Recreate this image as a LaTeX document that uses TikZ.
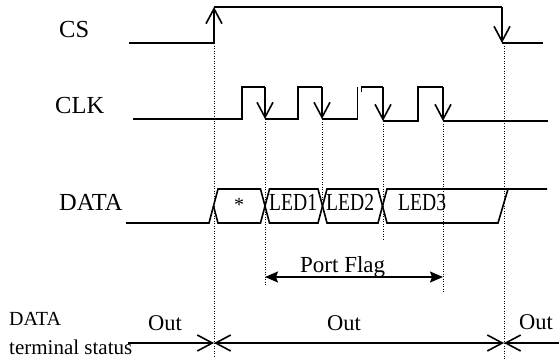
\documentclass[tikz,border=0pt]{standalone}
\usepackage{fontspec}
\setmainfont{Liberation Serif}
\usetikzlibrary{arrows.meta}
\begin{document}
\begin{tikzpicture}[x=1pt,y=-1pt,
  sig/.style={line width=1.6pt, line join=miter},
  barb/.style={-{Straight Barb[length=15pt,width=16pt]}},
  revbarb/.style={{Straight Barb[length=15pt,width=16pt]}-},
  bothbarb/.style={{Straight Barb[length=15pt,width=16pt]}-{Straight Barb[length=15pt,width=16pt]}},
  flag/.style={line width=1.6pt,{Stealth[length=13pt,width=11pt,inset=2pt]}-{Stealth[length=13pt,width=11pt,inset=2pt]}},
  dots/.style={line width=1pt, dash pattern=on 1pt off 1.5pt},
  lbl/.style={anchor=base west, inner sep=0pt},
  big/.style={font=\fontsize{24.5}{26}\selectfont},
  mid/.style={font=\fontsize{22.5}{24}\selectfont}
]
\useasboundingbox (0,0) rectangle (559,362);

% labels
\node[lbl,big] (lcs) at (59,37) {CS};
\node[lbl,big] (lclk) at (55,113) {CLK};
\node[lbl,big] (ldata) at (59,210) {DATA};
\node[lbl,font=\fontsize{20}{22}\selectfont] (ldt) at (9,325) {DATA};
\node[lbl,font=\fontsize{21}{22}\selectfont] (lts) at (9,354) {terminal status};

% ---- CS ----
\coordinate (cs0) at (129,43);
\coordinate (csr) at (214,43);
\coordinate (csrt) at (214,7);
\coordinate (csft) at (502,7);
\coordinate (csf) at (502,43);
\coordinate (cs1) at (543,43);
\draw[sig] (cs0) -- (csr);
\draw[sig,barb] (csr) -- (csrt);
\draw[sig] (csrt) -- (csft);
\draw[sig,barb] (csft) -- (csf);
\draw[sig] (csf) -- (cs1);

% ---- CLK ----
\coordinate (ck0) at (133,119);
\coordinate (p1a) at (242,119); \coordinate (p1b) at (242,87);
\coordinate (p1c) at (265,87);  \coordinate (p1d) at (265,119);
\coordinate (p2a) at (298,119); \coordinate (p2b) at (298,87);
\coordinate (p2c) at (322,87);  \coordinate (p2d) at (322,119);
\coordinate (p3a) at (357.5,119); \coordinate (p3b) at (357.5,87);
\coordinate (p3t) at (361.5,92); \coordinate (p3u) at (361.5,87);
\coordinate (p3c) at (383,87);  \coordinate (p3d) at (383,121);
\coordinate (p4a) at (418,121); \coordinate (p4b) at (418,87);
\coordinate (p4c) at (443,87);  \coordinate (p4d) at (443,121);
\coordinate (ck1) at (548,121);
\draw[sig] (ck0) -- (p1a) -- (p1b) -- (p1c);
\draw[sig,barb] (p1c) -- (p1d);
\draw[sig] (p1d) -- (p2a) -- (p2b) -- (p2c);
\draw[sig,barb] (p2c) -- (p2d);
\draw[sig] (p2d) -- (p3a) -- (p3b);
\draw[sig] (p3t) -- (p3u) -- (p3c);
\draw[sig,barb] (p3c) -- (p3d);
\draw[sig] (p3d) -- (p4a) -- (p4b) -- (p4c);
\draw[sig,barb] (p4c) -- (p4d);
\draw[sig] (p4d) -- (ck1);

% ---- DATA bus ----
\coordinate (d0) at (126,223);
\coordinate (x0a) at (209,223); \coordinate (x0b) at (218,189);
\coordinate (x0m) at (213.5,206); \coordinate (x0c) at (218,223);
\coordinate (x1a) at (260.5,189); \coordinate (x1b) at (269.5,223);
\coordinate (x1c) at (260.5,223); \coordinate (x1d) at (269.5,189);
\coordinate (x2a) at (318,189); \coordinate (x2b) at (327,223);
\coordinate (x2c) at (318,223); \coordinate (x2d) at (327,189);
\coordinate (x3a) at (378,189); \coordinate (x3b) at (387,223);
\coordinate (x3c) at (378,223); \coordinate (x3d) at (387,189);
\coordinate (eb) at (498,223); \coordinate (et) at (508,189);
\coordinate (d1) at (547,189);
\draw[sig] (d0) -- (x0a) -- (x0b) -- (x1a) -- (x1b) -- (x2c) -- (x2d) -- (x3a) -- (x3b) -- (eb) -- (et) -- (d1);
\draw[sig] (x0m) -- (x0c) -- (x1c) -- (x1d) -- (x2a) -- (x2b) -- (x3c) -- (x3d) -- (et);

\node[inner sep=0pt,font=\fontsize{20}{22}\selectfont] (star) at (239,205) {*};
\node[lbl,big] (led1) at (269,210) {\scalebox{0.8}[1]{LED1}};
\node[lbl,big] (led2) at (326,210) {\scalebox{0.8}[1]{LED2}};
\node[lbl,big] (led3) at (398,210) {\scalebox{0.8}[1]{LED3}};

% ---- dotted guides ----
\coordinate (g1b) at (214,358);
\coordinate (g2b) at (265,285);
\coordinate (g3b) at (322,200);
\coordinate (g4b) at (383,240);
\coordinate (g5b) at (443,292);
\coordinate (g6b) at (504,360);
\coordinate (g6t) at (504,43);
\draw[dots] (csr) -- (g1b);
\draw[dots] (p1d) -- (g2b);
\draw[dots] (p2d) -- (g3b);
\draw[dots] (p3d) -- (g4b);
\draw[dots] (p4d) -- (g5b);
\draw[dots] (g6t) -- (g6b);

% ---- Port Flag ----
\coordinate (pfa) at (265,277);
\coordinate (pfb) at (443,277);
\draw[flag] (pfa) -- (pfb);
\node[lbl,font=\fontsize{23}{24}\selectfont] (pf) at (300,272) {Port Flag};

% ---- terminal status ----
\coordinate (t0) at (128,343);
\coordinate (t1) at (214,343);
\coordinate (t2) at (504,343);
\coordinate (t3) at (559,343);
\draw[sig,barb] (t0) -- (t1);
\draw[sig,bothbarb] (t1) -- (t2);
\draw[sig,revbarb] (t2) -- (t3);
\node[lbl,mid] (o1) at (148,330) {Out};
\node[lbl,mid] (o2) at (327,330) {Out};
\node[lbl,mid] (o3) at (519,329) {Out};
\end{tikzpicture}
\end{document}
